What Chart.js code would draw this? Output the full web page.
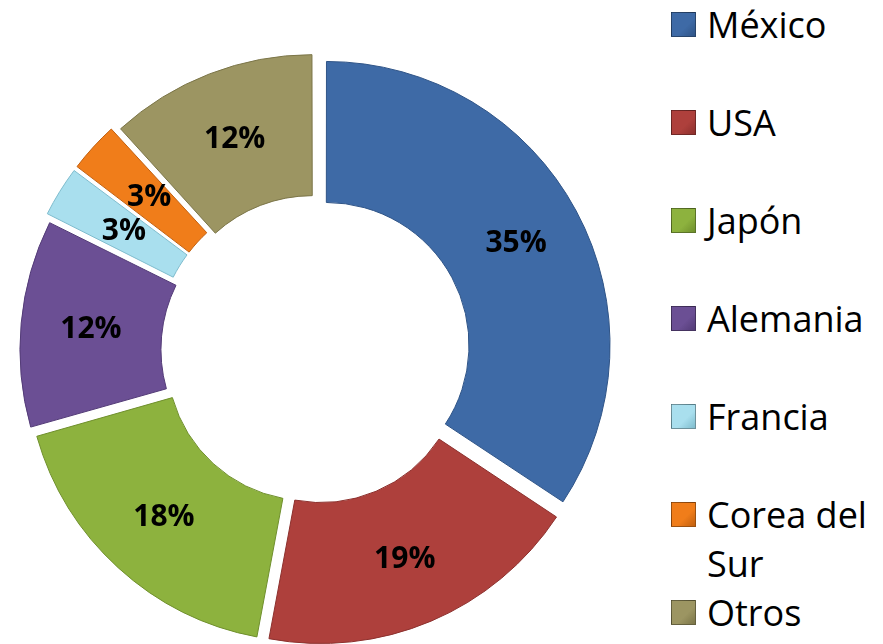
<!DOCTYPE html>
<html>
<head>
<meta charset="utf-8">
<script src="https://cdn.jsdelivr.net/npm/chart.js@4/dist/chart.umd.min.js"></script>
<style>
  html,body{margin:0;padding:0;background:#fff;}
  body{width:883px;height:644px;position:relative;overflow:hidden;font-family:"Open Sans",sans-serif;}
  #wrap{position:absolute;left:0;top:0;width:650px;height:660px;}
  #legend{position:absolute;left:671px;top:0;width:212px;font-size:36px;line-height:49px;color:#000;}
  #legend .it{position:relative;padding-left:36px;margin-bottom:49px;}
  #legend .it.tight{margin-bottom:0;}
  #legend .sw{position:absolute;left:0;top:12px;width:23px;height:23px;border:1px solid rgba(0,0,0,.35);}
</style>
</head>
<body>
<div id="wrap"><canvas id="chart"></canvas></div>
<div id="legend"></div>
<script>
// datos
const paises  = ["México","USA","Japón","Alemania","Francia","Corea del Sur","Otros"];
const valores = [35, 19, 18, 12, 3, 3, 12];
const colores = ["#3e6aa6","#ae403c","#8db23e","#6b4f94","#a9dfee","#f07d1a","#9c9562"];
const bordes  = ["#2f5487","#8c302d","#6f8f2c","#533b77","#7fbccd","#c2600f","#7b7548"];

// arc offset en Chart.js v4 se aplica /4 al dibujar
const OFFSET = 44;

// etiquetas dentro de cada sector
const pctLabels = {
  id: "pctLabels",
  afterDatasetsDraw(chart){
    const {ctx} = chart;
    const meta = chart.getDatasetMeta(0);
    ctx.save();
    ctx.font = "bold 30px 'Open Sans', sans-serif";
    ctx.fillStyle = "#000";
    ctx.textAlign = "center";
    ctx.textBaseline = "middle";
    meta.data.forEach((arc,i)=>{
      const a = (arc.startAngle + arc.endAngle)/2;
      const r = (arc.innerRadius + arc.outerRadius)/2 + OFFSET/4 + 4;
      ctx.fillText(valores[i] + "%", arc.x + Math.cos(a)*r, arc.y + Math.sin(a)*r);
    });
    ctx.restore();
  }
};

new Chart(document.getElementById("chart"), {
  type: "doughnut",
  data: {
    labels: paises,
    datasets: [{
      data: valores,
      backgroundColor: colores,
      borderColor: bordes,
      borderWidth: 1,
      offset: OFFSET,
      clip: false
    }]
  },
  options: {
    responsive: true,
    maintainAspectRatio: false,
    animation: false,
    cutout: "50%",
    layout: { padding: { left: 12, top: 46, right: 29, bottom: 5 } },
    plugins: { legend: { display:false }, tooltip: { enabled:false } }
  },
  plugins: [pctLabels]
});

// leyenda
const leg = document.getElementById("legend");
paises.forEach((p,i)=>{
  const d = document.createElement("div");
  d.className = "it" + (p === "Corea del Sur" ? " tight" : "");
  const sw = document.createElement("span");
  sw.className = "sw";
  sw.style.background = `linear-gradient(135deg, ${colores[i]} 0%, ${colores[i]} 60%, ${bordes[i]} 100%)`;
  d.appendChild(sw);
  d.appendChild(document.createTextNode(p));
  leg.appendChild(d);
});
</script>
</body>
</html>
